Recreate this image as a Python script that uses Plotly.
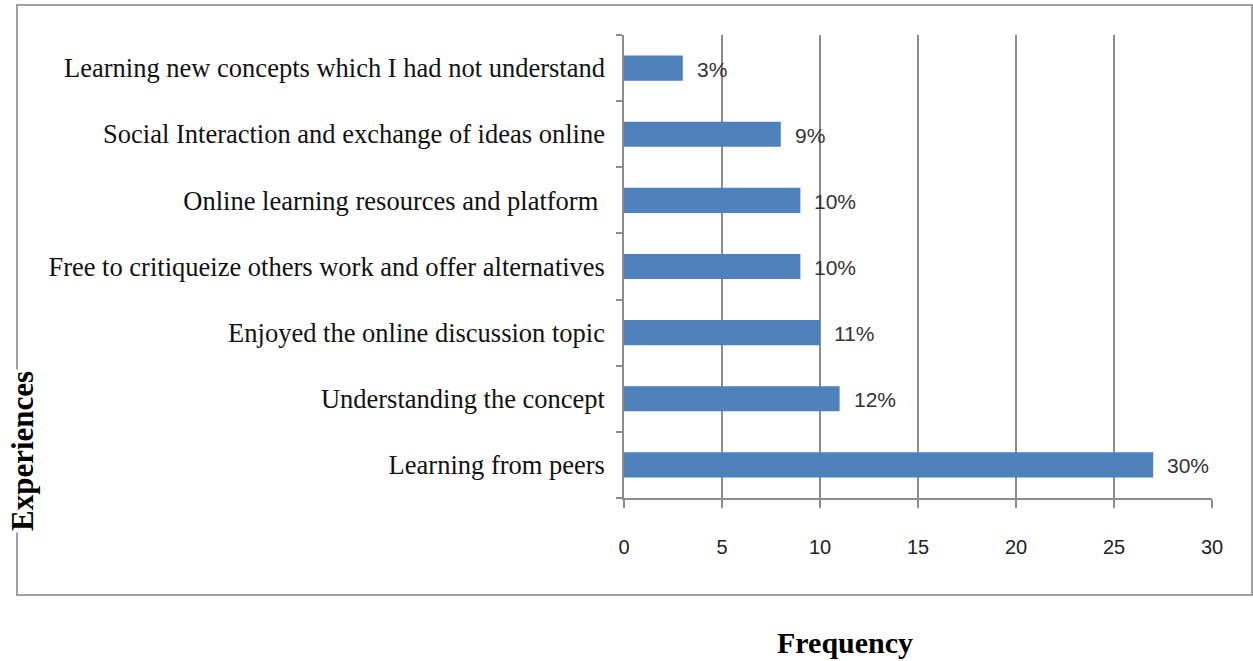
import plotly.graph_objects as go

categories = [
    "Learning new concepts which I had not understand",
    "Social Interaction and exchange of ideas online",
    "Online learning resources and platform ",
    "Free to critiqueize others work and offer alternatives",
    "Enjoyed the online discussion topic",
    "Understanding the concept",
    "Learning from peers",
]
frequency = [3, 8, 9, 9, 10, 11, 27]
percent_labels = ["3%", "9%", "10%", "10%", "11%", "12%", "30%"]
x_ticks = [0, 5, 10, 15, 20, 25, 30]

W, H = 1253, 661
L, R, T, B = 624, 41, 35, 163
pw, ph = W - L - R, H - T - B

def px(x):
    return (x - L) / pw

def py(y):
    return (H - B - y) / ph

fig = go.Figure()
fig.add_trace(go.Bar(
    x=frequency,
    y=categories,
    orientation="h",
    marker=dict(color="#4F81BD", line=dict(width=0)),
    width=0.38,
    hoverinfo="skip",
))

for v, c, t in zip(frequency, categories, percent_labels):
    fig.add_annotation(x=v, y=c, text=t, showarrow=False, xanchor="left", yanchor="middle",
                       xshift=12, yshift=-1,
                       font=dict(family="Liberation Sans, Arial", size=21, color="#333333"))

fig.update_layout(
    width=W, height=H,
    margin=dict(l=L, r=R, t=T, b=B, pad=0),
    paper_bgcolor="white",
    plot_bgcolor="white",
    showlegend=False,
    xaxis=dict(
        range=[0, 30],
        tickvals=x_ticks,
        ticktext=[str(v) for v in x_ticks],
        showgrid=True, gridcolor="#8c8c8c", gridwidth=1.5,
        zeroline=False,
        showline=True, linecolor="#8c8c8c", linewidth=1.5,
        ticks="outside", ticklen=8, tickcolor="#8c8c8c", tickwidth=1.5,
        ticklabelstandoff=22,
        tickfont=dict(family="Liberation Sans, Arial", size=20, color="#222222"),
    ),
    yaxis=dict(
        type="category",
        categoryorder="array",
        categoryarray=categories[::-1],
        tickson="boundaries",
        showgrid=False,
        showline=True, linecolor="#8c8c8c", linewidth=1.5,
        ticks="outside", ticklen=6, tickcolor="#8c8c8c", tickwidth=1.5,
        ticklabelstandoff=12,
        tickfont=dict(family="Liberation Serif, Times New Roman, serif", size=26.5, color="#111111"),
    ),
)

# outer chart border
fig.add_shape(type="rect", xref="paper", yref="paper",
              x0=px(17), x1=px(1252), y0=py(595), y1=py(5),
              line=dict(color="#a0a0a0", width=2), fillcolor="rgba(0,0,0,0)", layer="below")

fig.add_annotation(xref="paper", yref="paper", x=px(22), y=py(451), text="<b>Experiences</b>",
                   xanchor="center", yanchor="middle",
                   textangle=-90, showarrow=False, bgcolor="white",
                   font=dict(family="Liberation Serif, Times New Roman, serif", size=31, color="black"))
fig.add_annotation(xref="paper", yref="paper", x=px(845), y=py(642), text="<b>Frequency</b>",
                   xanchor="center", yanchor="middle",
                   showarrow=False,
                   font=dict(family="Liberation Serif, Times New Roman, serif", size=30, color="black"))

fig.write_html("out.html", config={"displayModeBar": False},
               post_script="document.body.style.margin='0';")
